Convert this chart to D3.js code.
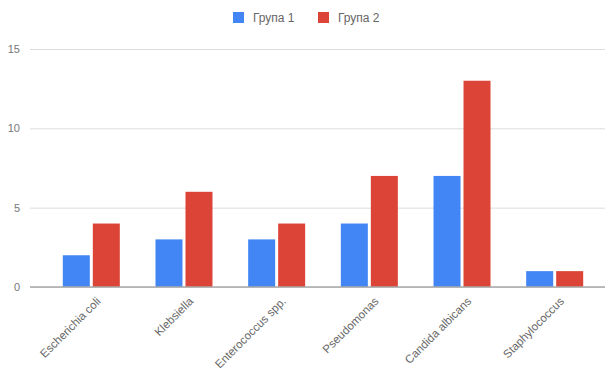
<!DOCTYPE html>
<html>
<head>
<meta charset="utf-8">
<script src="https://cdn.jsdelivr.net/npm/d3@7/dist/d3.min.js"></script>
<style>
  html, body { margin: 0; padding: 0; background: #fff; }
  svg { display: block; font-family: "Liberation Sans", Arial, sans-serif; }
</style>
</head>
<body>
<svg id="chart" width="615" height="379"></svg>
<script>
// Categories and values per group
const categories = ["Escherichia coli", "Klebsiella", "Enterococcus spp.", "Pseudomonas", "Candida albicans", "Staphylococcus"];
const seriesNames = ["Група 1", "Група 2"];
const group1 = [2, 3, 3, 4, 7, 1];
const group2 = [4, 6, 4, 7, 13, 1];
const yTicks = [0, 5, 10, 15];
const colors = ["#4285F4", "#DB4437"];

const rows = categories.map((c, i) => ({ cat: c, vals: [group1[i], group2[i]] }));

const font = "'Liberation Sans', Arial, sans-serif";
const svg = d3.select("#chart");
const plot = { left: 30, right: 605, top: 49, bottom: 287 };

const x = d3.scaleBand().domain(categories).range([45.2, 600.8]).paddingInner(0.385).paddingOuter(0.19);
const xs = d3.scaleBand().domain(d3.range(seriesNames.length)).range([0, x.bandwidth()]).paddingInner(0.1);
const y = d3.scaleLinear().domain([0, 15]).range([plot.bottom, plot.top]);

// Horizontal gridlines and y tick labels
const yAxis = d3.axisLeft(y).tickValues(yTicks).tickSize(-(plot.right - plot.left)).tickPadding(10);
const gy = svg.append("g").attr("transform", `translate(${plot.left},0)`).call(yAxis);
gy.select(".domain").remove();
gy.selectAll(".tick line").attr("stroke", "#dcdcdc").attr("stroke-width", 1);
gy.selectAll(".tick text").attr("fill", "#777").style("font-size", "11px").attr("font-family", font);

// Bars
const grp = svg.append("g").selectAll("g").data(rows).join("g")
  .attr("transform", d => `translate(${x(d.cat)},0)`);
grp.selectAll("rect").data(d => d.vals.map((v, k) => ({ v, k }))).join("rect")
  .attr("x", d => xs(d.k))
  .attr("width", xs.bandwidth())
  .attr("y", d => y(d.v))
  .attr("height", d => y(0) - y(d.v))
  .attr("fill", d => colors[d.k]);

// Baseline
svg.append("line")
  .attr("x1", plot.left).attr("x2", plot.right)
  .attr("y1", y(0)).attr("y2", y(0))
  .attr("stroke", "#a8a8a8").attr("stroke-width", 1.5);

// Rotated category labels
const xAxis = d3.axisBottom(x).tickSize(0).tickPadding(0);
const gx = svg.append("g").attr("transform", `translate(0,${y(0)})`).call(xAxis);
gx.select(".domain").remove();
gx.selectAll(".tick text")
  .attr("fill", "#666")
  .style("font-size", "11.5px")
  .attr("font-family", font)
  .attr("text-anchor", "end")
  .attr("dy", "0")
  .attr("transform", "translate(10,15) rotate(-45)");

// Legend
const legend = svg.append("g").attr("transform", "translate(233,12)");
const items = legend.selectAll("g").data(seriesNames).join("g")
  .attr("transform", (d, i) => `translate(${i * 85},0)`);
items.append("rect").attr("width", 11).attr("height", 11).attr("fill", (d, i) => colors[i]);
items.append("text").attr("x", 20).attr("y", 10)
  .attr("fill", "#666").style("font-size", "12px").attr("font-family", font).text(d => d);
</script>
</body>
</html>
